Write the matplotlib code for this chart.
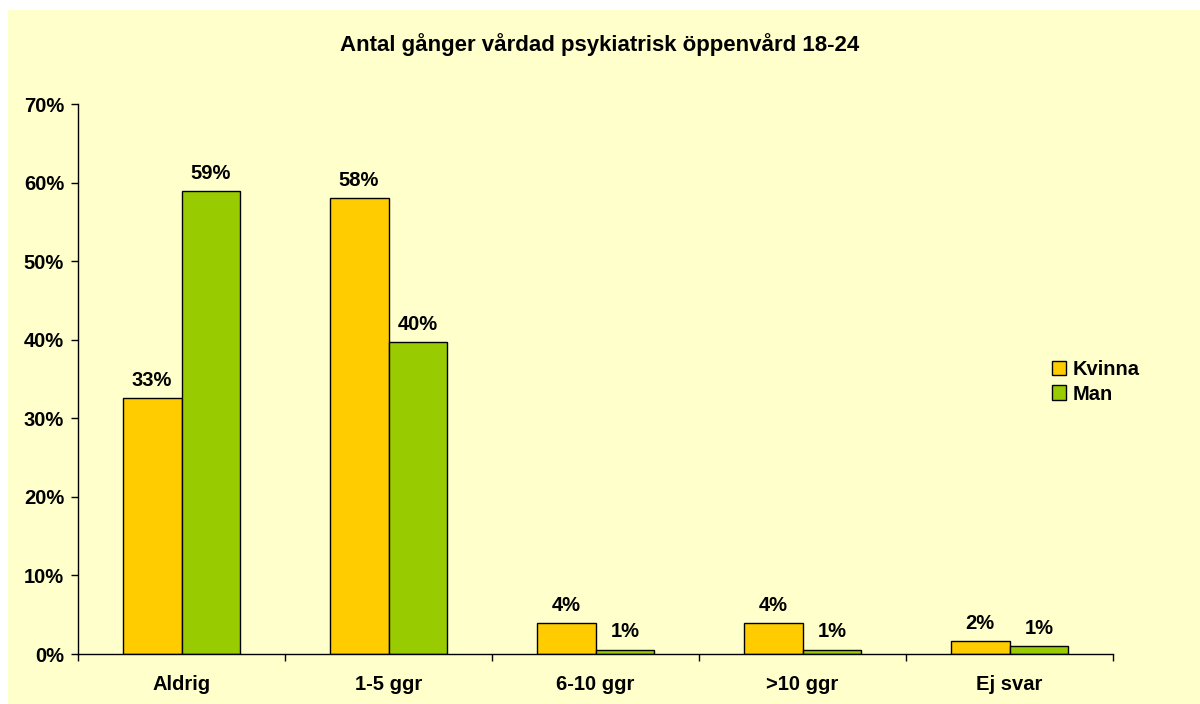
import matplotlib
matplotlib.use("Agg")
import matplotlib.pyplot as plt
from matplotlib.patches import Rectangle
import numpy as np

categories = ["Aldrig", "1-5 ggr", "6-10 ggr", ">10 ggr", "Ej svar"]
kvinna = [32.6, 58.0, 3.95, 3.95, 1.65]
man = [58.9, 39.7, 0.55, 0.55, 1.0]
kvinna_labels = ["33%", "58%", "4%", "4%", "2%"]
man_labels = ["59%", "40%", "1%", "1%", "1%"]
yticks = [0, 10, 20, 30, 40, 50, 60, 70]

plt.rcParams['font.family'] = ['Liberation Sans', 'DejaVu Sans']

bg = "#FFFFCC"
c_k = "#FFCC00"
c_m = "#99CC00"
fs = 14.5

fig = plt.figure(figsize=(12, 7.04), dpi=100)
fig.patch.set_facecolor("white")
fig.patches.append(Rectangle((8/1200, 0), 1 - 8/1200, 1 - 10/704, transform=fig.transFigure,
                             facecolor=bg, edgecolor="none", zorder=-10))

ax = fig.add_axes([78/1200, 50/704, (1113-78)/1200, (654-104)/704])
ax.set_facecolor("none")

x = np.arange(len(categories))
w = 0.285
b1 = ax.bar(x - w/2, kvinna, w, color=c_k, edgecolor="black", linewidth=1, label="Kvinna")
b2 = ax.bar(x + w/2, man, w, color=c_m, edgecolor="black", linewidth=1, label="Man")

for bars, labels in ((b1, kvinna_labels), (b2, man_labels)):
    for rect, lab in zip(bars, labels):
        ax.annotate(lab, (rect.get_x() + rect.get_width()/2, rect.get_height()),
                    xytext=(0, 6), textcoords="offset points", ha="center", va="bottom",
                    fontsize=fs, fontweight="bold")

ax.set_xlim(-0.5, len(categories) - 0.5)
ax.set_ylim(0, 70)
ax.set_yticks(yticks)
ax.set_yticklabels([f"{t}%" for t in yticks], fontsize=fs, fontweight="bold")
ax.set_xticks(x)
ax.set_xticklabels(categories, fontsize=fs, fontweight="bold")
ax.tick_params(axis="x", length=0, pad=15)
ax.set_xticks(np.arange(-0.5, len(categories)), minor=True)
ax.tick_params(axis="x", which="minor", length=5, direction="out", width=1)
ax.tick_params(axis="y", length=5, direction="out", width=1, pad=5)

for s in ["top", "right"]:
    ax.spines[s].set_visible(False)
ax.spines["left"].set_linewidth(1)
ax.spines["bottom"].set_linewidth(1)

fig.text(600/1200, 1 - 45/704, "Antal gånger vårdad psykiatrisk öppenvård 18-24",
         ha="center", va="center", fontsize=16, fontweight="bold")

leg = ax.legend(loc="center left", bbox_to_anchor=(1034/1200, 1 - 382/704),
                bbox_transform=fig.transFigure, frameon=False,
                prop={"size": fs, "weight": "bold"}, handlelength=0.7, handleheight=0.7,
                handletextpad=0.3, labelspacing=0.25)

fig.savefig("out.png", dpi=100)
